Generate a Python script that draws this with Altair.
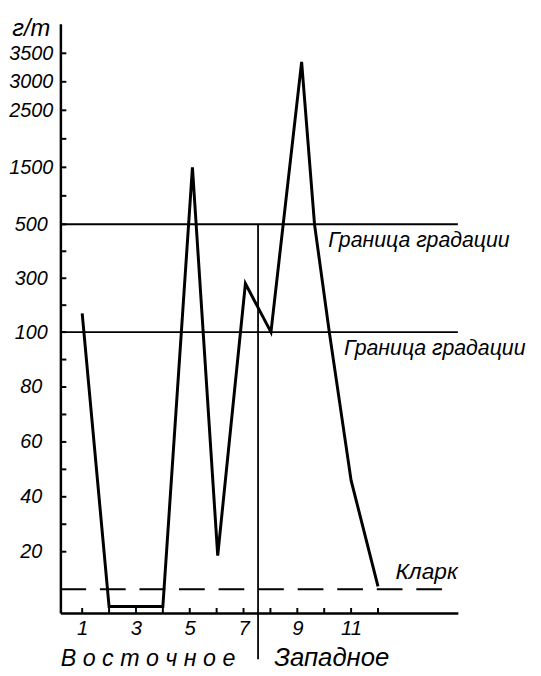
import altair as alt
import pandas as pd

# ---- data ----
section_pos = [1, 2, 3, 4, 5.1, 6.04, 7.07, 8.02, 9.16, 9.64, 10.19, 11.0, 12.0]
content_gt = [170, 0, 0, 0, 1500, 18.6, 280, 100, 3350, 500, 100, 46, 7.4]

grad_limits = [500, 100]
clarke = 6.3
divider_x = 7.54

y_label_values = [20, 40, 60, 80, 100, 300, 500, 1500, 2500, 3000, 3500]
y_tick_values = [20, 30, 40, 50, 60, 70, 80, 90, 100, 200, 300, 400, 500,
                 1000, 1500, 2000, 2500, 3000, 3500]
x_label_values = [1, 3, 5, 7, 9, 11]
x_tick_values = list(range(1, 13))

FONT = "Liberation Sans"
W, H = 402, 596

xs = alt.Scale(domain=[0.19, 14.97], nice=False, zero=False)
ys = alt.Scale(domain=[-2.3, 100, 500, 4020], range=[H, 312, 203, 0],
               nice=False, zero=False)

df = pd.DataFrame({"x": section_pos, "v": content_gt})

base_x_axis = alt.Axis(values=x_label_values, ticks=False, tickSize=0, grid=False,
                       labelFont=FONT, labelFontStyle="italic", labelFontSize=20.5,
                       labelColor="black", labelPadding=6, domainColor="black",
                       domainWidth=2.5, title=None, labelFlush=False, format="d")
base_y_axis = alt.Axis(values=y_label_values, ticks=False, tickSize=0, grid=False,
                       labelFont=FONT, labelFontStyle="italic", labelFontSize=20,
                       labelColor="black", labelAlign="center", labelPadding=30,
                       domainColor="black", domainWidth=2.5, title="г/т",
                       titleAngle=0, titleX=-30, titleY=12, titleAlign="center",
                       titleBaseline="alphabetic", titleFont=FONT,
                       titleFontStyle="italic", titleFontSize=24,
                       titleFontWeight="normal", titleColor="black",
                       labelFlush=False, format="d")

line = alt.Chart(df).mark_line(color="black", strokeWidth=3, clip=False).encode(
    x=alt.X("x:Q", scale=xs, axis=base_x_axis),
    y=alt.Y("v:Q", scale=ys, axis=base_y_axis),
)

lim_df = pd.DataFrame({"v": grad_limits})
limits = alt.Chart(lim_df).mark_rule(color="black", strokeWidth=2).encode(
    y=alt.Y("v:Q", scale=ys)
)

clarke_df = pd.DataFrame({"x": [0.19], "x2": [14.6], "v": [clarke]})
clarke_rule = alt.Chart(clarke_df).mark_rule(
    color="black", strokeWidth=2, strokeDash=[26, 14]
).encode(x=alt.X("x:Q", scale=xs), x2="x2:Q", y=alt.Y("v:Q", scale=ys))

div_df = pd.DataFrame({"x": [divider_x], "v": [500], "v2": [-19.2]})
divider = alt.Chart(div_df).mark_rule(color="black", strokeWidth=1.8, clip=False).encode(
    x=alt.X("x:Q", scale=xs), y=alt.Y("v:Q", scale=ys), y2="v2:Q"
)

yt_df = pd.DataFrame({"v": y_tick_values})
y_ticks = alt.Chart(yt_df).mark_rule(color="black", strokeWidth=2).encode(
    y=alt.Y("v:Q", scale=ys), x=alt.value(0), x2=alt.value(6)
)

xt_df = pd.DataFrame({"x": x_tick_values})
x_ticks = alt.Chart(xt_df).mark_rule(color="black", strokeWidth=2).encode(
    x=alt.X("x:Q", scale=xs), y=alt.value(H), y2=alt.value(H - 5)
)

lab_df = pd.DataFrame({
    "x": [10.15, 10.74],
    "v": [500, 100],
    "t": ["Граница градации", "Граница градации"],
})
grad_text = alt.Chart(lab_df).mark_text(
    align="left", baseline="top", dy=6, font=FONT, fontStyle="italic",
    fontSize=21.5, color="black", clip=False
).encode(x=alt.X("x:Q", scale=xs), y=alt.Y("v:Q", scale=ys), text="t:N")

clarke_text = alt.Chart(pd.DataFrame({"x": [12.65], "v": [clarke], "t": ["Кларк"]})).mark_text(
    align="left", baseline="alphabetic", dy=-10, font=FONT, fontStyle="italic",
    fontSize=23, color="black", clip=False
).encode(x=alt.X("x:Q", scale=xs), y=alt.Y("v:Q", scale=ys), text="t:N")

side_df = pd.DataFrame({
    "x": [3.45, 10.28],
    "v": [-21.76, -21.76],
    "t": ["В о с т о ч н о е", "Западное"],
    "fs": [23.5, 26],
})
side_text = alt.Chart(side_df).mark_text(
    align="center", baseline="alphabetic", font=FONT, fontStyle="italic",
    color="black", clip=False
).encode(x=alt.X("x:Q", scale=xs), y=alt.Y("v:Q", scale=ys), text="t:N",
         size=alt.Size("fs:Q", scale=None, legend=None))

chart = alt.layer(
    limits, clarke_rule, divider, y_ticks, x_ticks, line,
    grad_text, clarke_text, side_text
).properties(
    width=W, height=H,
    autosize=alt.AutoSizeParams(type="none"),
    padding={"left": 53, "top": 12, "right": 76, "bottom": 62},
    background="white",
).configure_view(stroke=None)

chart.save("out.html", embed_options={"renderer": "svg", "actions": False})
